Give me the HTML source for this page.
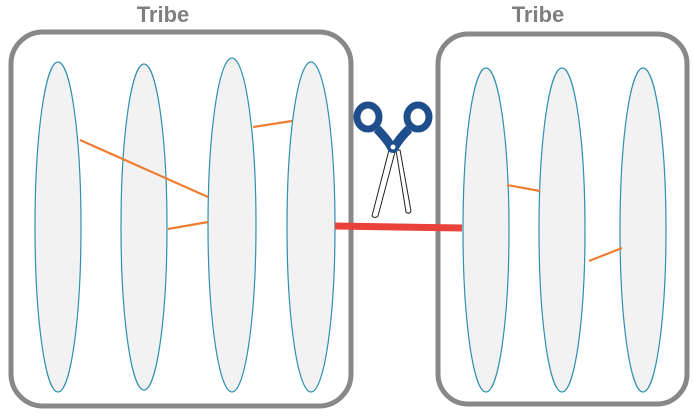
<!DOCTYPE html>
<html><head><meta charset="utf-8"><style>
html,body{margin:0;padding:0;background:#fff;}
svg{display:block;}
text{font-family:"Liberation Sans",sans-serif;font-weight:bold;}
</style></head><body>
<svg width="693" height="417" viewBox="0 0 693 417">
  <text x="163" y="22" font-size="22" fill="#7f7f7f" text-anchor="middle">Tribe</text>
  <text x="538" y="22" font-size="22" fill="#7f7f7f" text-anchor="middle">Tribe</text>
  <rect x="11" y="32" width="340" height="374" rx="32" fill="#fff" stroke="#888" stroke-width="5"/>
  <rect x="438" y="34" width="249" height="370" rx="30" fill="#fff" stroke="#888" stroke-width="5"/>
  <g fill="#f2f2f2" stroke="#2e8fb0" stroke-width="1.2">
    <ellipse cx="58" cy="227" rx="23" ry="165"/>
    <ellipse cx="144" cy="227" rx="23" ry="163"/>
    <ellipse cx="232" cy="225" rx="24" ry="167"/>
    <ellipse cx="311" cy="227" rx="24" ry="165"/>
    <ellipse cx="486" cy="230" rx="23" ry="162"/>
    <ellipse cx="562" cy="230" rx="23" ry="162"/>
    <ellipse cx="643" cy="230" rx="23" ry="162"/>
  </g>
  <g stroke="#ed7d31" stroke-width="2.2">
    <line x1="80" y1="140" x2="208" y2="197"/>
    <line x1="168" y1="229" x2="208" y2="222"/>
    <line x1="253" y1="127" x2="292" y2="121"/>
    <line x1="507" y1="185" x2="540" y2="191"/>
    <line x1="589" y1="261" x2="622" y2="248"/>
  </g>
  <line x1="335" y1="226" x2="462" y2="228" stroke="#e8423a" stroke-width="7"/>
  <g>
    <path d="M389 150 L372 216 Q375 219 378 216 L395 152 Z" fill="#fff" stroke="#222" stroke-width="1"/>
    <path d="M396 150 L406 212 Q409 215 411 211 L400 150 Z" fill="#fff" stroke="#222" stroke-width="1"/>
    <path d="M377 129 Q387 139 392 148 M409 129 Q399 139 394 148" stroke="#1f4e8c" stroke-width="9" fill="none"/>
    <ellipse cx="368" cy="117" rx="11" ry="12" fill="none" stroke="#1f4e8c" stroke-width="7"/>
    <ellipse cx="418" cy="117" rx="11" ry="12" fill="none" stroke="#1f4e8c" stroke-width="7"/>
    <circle cx="393" cy="147" r="6" fill="#1f4e8c"/>
    <circle cx="393" cy="147" r="2.5" fill="#fff"/>
  </g>
</svg>
</body></html>
